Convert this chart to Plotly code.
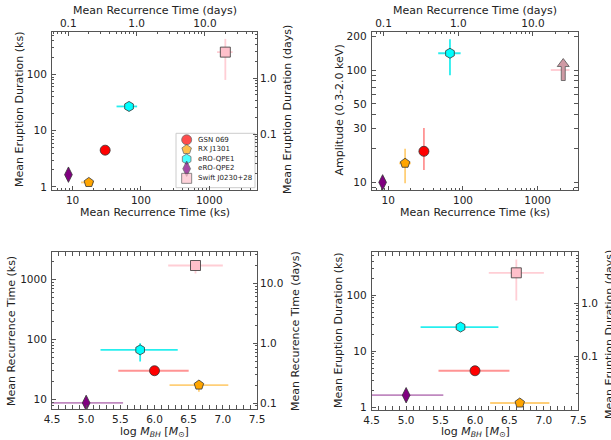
import math
import plotly.graph_objects as go

# ---------------- data ----------------
names = ["GSN 069", "RX J1301", "eRO-QPE1", "eRO-QPE2", "Swift J0230+28"]
symbols = ["circle", "pentagon", "hexagon", "diamond-tall", "square"]
colors = ["#ff0000", "#ffa500", "#00ffff", "#800080", "#ffc0cb"]
err_colors = ["rgba(255,60,60,0.55)", "rgba(255,175,30,0.6)", "rgba(0,235,235,0.85)",
              "rgba(140,40,140,0.55)", "rgba(255,185,195,0.7)"]

# mean recurrence time (ks)
rec_ks = [30.0, 17.3, 67.0, 8.7, 1720.0]
rec_lo = [28.5, 13.3, 44.0, 8.4, 1300.0]
rec_hi = [31.5, 20.5, 88.0, 9.0, 2200.0]
# mean eruption duration (ks)
dur_ks = [4.5, 1.2, 27.0, 1.65, 250.0]
dur_lo = [4.3, 1.15, 26.0, 1.6, 80.0]
dur_hi = [4.7, 1.25, 28.0, 1.7, 430.0]
# amplitude (0.3-2.0 keV); Swift J0230+28 is a lower limit
amp = [18.9, 14.8, 141.0, 10.0, 100.0]
amp_lo = [12.9, 9.8, 90.0, 10.0, 100.0]
amp_hi = [30.4, 19.9, 188.0, 10.0, 100.0]
amp_is_lower_limit = [False, False, False, False, True]
# recurrence used in the amplitude panel
amp_rec_ks = [30.0, 16.8, 67.0, 8.4, 2000.0]
amp_rec_lo = [28.5, 14.0, 46.6, 8.1, 1500.0]
amp_rec_hi = [31.5, 20.0, 93.0, 8.7, 2670.0]
amp_limit_rec_ks = 2200.0
# black hole mass
logM = [6.0, 6.65, 5.79, 5.0, 6.6]
logM_lo = [5.47, 6.22, 5.21, 4.45, 6.2]
logM_hi = [6.5, 7.08, 6.34, 5.54, 7.0]
# recurrence errors shown in mass panel
recM_lo = [29.0, 13.4, 42.7, 8.5, 1260.0]
recM_hi = [31.0, 19.6, 86.7, 9.1, 2050.0]

KS_PER_DAY = 86.4
day_ticks = [0.1, 1.0, 10.0]
day_text = ["0.1", "1.0", "10.0"]

FONT = "DejaVu Sans"
TXT = "#222222"
AXC = "#555555"

fig = go.Figure()

def errs(v, lo, hi):
    return dict(type="data", symmetric=False,
                array=[h - x for x, h in zip(v, hi)],
                arrayminus=[x - l for x, l in zip(v, lo)])

def marker(i):
    return dict(symbol=symbols[i], color=colors[i],
                size=11 if symbols[i] == "diamond-tall" else 10,
                line=dict(color="#333333", width=0.8))

def add_points(xs, ys, xlo, xhi, ylo, yhi, xa, ya):
    for i in range(len(names)):
        ex = errs([xs[i]], [xlo[i]], [xhi[i]])
        ey = errs([ys[i]], [ylo[i]], [yhi[i]])
        ex.update(color=err_colors[i], thickness=1.8, width=0)
        ey.update(color=err_colors[i], thickness=1.8, width=0)
        fig.add_trace(go.Scatter(
            x=[xs[i]], y=[ys[i]], mode="markers", xaxis=xa, yaxis=ya,
            error_x=ex, error_y=ey, showlegend=False, hoverinfo="skip",
            marker=marker(i)))

# panel 1: duration vs recurrence
add_points(rec_ks, dur_ks, rec_lo, rec_hi, dur_lo, dur_hi, "x", "y")
# panel 2: amplitude vs recurrence
for i in range(len(names)):
    ex = errs([amp_rec_ks[i]], [amp_rec_lo[i]], [amp_rec_hi[i]])
    ey = errs([amp[i]], [amp_lo[i]], [amp_hi[i]])
    ex.update(color=err_colors[i], thickness=1.8, width=0)
    ey.update(color=err_colors[i], thickness=1.8, width=0)
    if amp_is_lower_limit[i]:
        fig.add_trace(go.Scatter(x=[amp_rec_ks[i]], y=[amp[i]], mode="markers",
                                 xaxis="x2", yaxis="y2", error_x=ex,
                                 marker=dict(size=1, opacity=0),
                                 showlegend=False, hoverinfo="skip"))
        fig.add_shape(type="path", xref="x2", yref="y2",
                      xsizemode="pixel", ysizemode="pixel",
                      xanchor=amp_limit_rec_ks, yanchor=amp[i],
                      path="M -2,-10.5 L 2,-10.5 L 2,3.5 L 6,3.5 L 0,11.5 L -6,3.5 L -2,3.5 Z",
                      fillcolor="#cf9aa4", line=dict(color="#555555", width=0.8),
                      layer="above")
    else:
        fig.add_trace(go.Scatter(
            x=[amp_rec_ks[i]], y=[amp[i]], mode="markers", xaxis="x2", yaxis="y2",
            error_x=ex, error_y=ey, showlegend=False, hoverinfo="skip",
            marker=marker(i)))
# panel 3: recurrence vs mass
add_points(logM, rec_ks, logM_lo, logM_hi, recM_lo, recM_hi, "x3", "y3")
# panel 4: duration vs mass
add_points(logM, dur_ks, logM_lo, logM_hi, dur_lo, dur_hi, "x4", "y4")

# invisible traces for the secondary (days) axes
def ghost(xa, ya, xs, ys):
    fig.add_trace(go.Scatter(x=xs, y=ys, xaxis=xa, yaxis=ya, mode="markers",
                             marker=dict(opacity=0, size=1), showlegend=False,
                             hoverinfo="skip"))
ghost("x5", "y", [r / KS_PER_DAY for r in rec_ks], dur_ks)
ghost("x", "y5", rec_ks, [d / KS_PER_DAY for d in dur_ks])
ghost("x6", "y2", [r / KS_PER_DAY for r in amp_rec_ks], amp)
ghost("x3", "y6", logM, [r / KS_PER_DAY for r in rec_ks])
ghost("x4", "y7", logM, [d / KS_PER_DAY for d in dur_ks])

# manual legend (compact, inside panel 1)
n = len(names)
leg_y = [0.88 - i * 0.177 for i in range(n)]
fig.add_trace(go.Scatter(x=[0.135] * n, y=leg_y, xaxis="x7", yaxis="y8", mode="markers",
                         marker=dict(symbol=symbols, color=colors,
                                     size=[10, 10, 10, 11, 10],
                                     line=dict(color="#333333", width=0.8)),
                         showlegend=False, hoverinfo="skip"))
fig.add_trace(go.Scatter(x=[0.28] * n, y=leg_y, xaxis="x7", yaxis="y8", mode="text",
                         text=names, textposition="middle right",
                         textfont=dict(family=FONT, size=7, color=TXT),
                         showlegend=False, hoverinfo="skip"))

# ---------------- layout ----------------
L = math.log10
D = L(KS_PER_DAY)
minor_log = [k * 10 ** e for e in range(-3, 5) for k in range(2, 10)]

tickfont = dict(family=FONT, size=10.5, color=TXT)
titlefont = dict(family=FONT, size=11, color=TXT)

def logax(dom, rng, anchor=None, side=None, mirror=True, tickvals=None,
          ticktext=None, overlaying=None, showline=True, standoff=2):
    d = dict(type="log", range=rng, showgrid=False, zeroline=False, automargin=False,
             ticks="inside", ticklen=4, tickwidth=0.8, tickcolor=AXC,
             tickfont=tickfont, ticklabelstandoff=standoff,
             minor=dict(ticks="inside", ticklen=2, tickwidth=0.6, tickcolor=AXC,
                        tickmode="array", tickvals=minor_log, showgrid=False),
             showline=showline, linecolor=AXC, linewidth=1, mirror=mirror)
    if dom is not None:
        d["domain"] = dom
    if anchor:
        d["anchor"] = anchor
    if side:
        d["side"] = side
    if overlaying:
        d["overlaying"] = overlaying
    if tickvals is not None:
        d["tickmode"] = "array"
        d["tickvals"] = tickvals
        d["ticktext"] = ticktext
    return d

def linax(dom, anchor):
    return dict(domain=dom, range=[4.5, 7.5], showgrid=False, zeroline=False,
                automargin=False,
                tickmode="linear", tick0=4.5, dtick=0.5, tickformat=".1f",
                ticks="inside", ticklen=4, tickwidth=0.8, tickcolor=AXC,
                tickfont=tickfont, ticklabelstandoff=0,
                minor=dict(ticks="inside", ticklen=2, tickwidth=0.6, tickcolor=AXC,
                           dtick=0.1, showgrid=False),
                showline=True, linecolor=AXC, linewidth=1, mirror="allticks",
                anchor=anchor)

W, H = 611, 440
dx_l = [52 / W, 257 / W]
dx_r = [371.7 / W, 578.3 / W]
dy_t = [1 - 190 / H, 1 - 32 / H]
dy_b3 = [1 - 409.3 / H, 1 - 252.3 / H]
dy_b4 = [1 - 410 / H, 1 - 252.3 / H]

r1x = [L(5), L(5000)]
r1y = [L(0.88), L(570)]
r2x = [L(6), L(3500)]
r2y = [L(8.55), L(218)]
r3y = [L(6.8), L(2860)]
r4y = [L(0.9), L(580)]

ks_ticks = [1, 10, 100, 1000]
ks_text = ["1", "10", "100", "1000"]
mass_title = "log <i>M<sub>BH</sub></i> [<i>M</i><sub>⊙</sub>]"

fig.update_layout(
    template="none",
    width=W, height=H, margin=dict(l=0, r=0, t=0, b=0, autoexpand=False),
    paper_bgcolor="white", plot_bgcolor="rgba(0,0,0,0)",
    font=dict(family=FONT, color=TXT), showlegend=False,
    xaxis=logax(dx_l, r1x, anchor="y", tickvals=ks_ticks, ticktext=ks_text, standoff=0),
    yaxis=logax(dy_t, r1y, anchor="x", tickvals=ks_ticks, ticktext=ks_text),
    xaxis5=logax(None, [r1x[0] - D, r1x[1] - D], anchor="y", side="top",
                 overlaying="x", mirror=False, tickvals=day_ticks, ticktext=day_text,
                 showline=False),
    yaxis5=logax(None, [r1y[0] - D, r1y[1] - D], anchor="x", side="right",
                 overlaying="y", mirror=False, tickvals=day_ticks, ticktext=day_text,
                 showline=False),
    xaxis2=logax(dx_r, r2x, anchor="y2", tickvals=ks_ticks, ticktext=ks_text, standoff=0),
    yaxis2=logax(dy_t, r2y, anchor="x2", mirror="allticks",
                 tickvals=[10, 30, 50, 100, 200], ticktext=["10", "30", "50", "100", "200"]),
    xaxis6=logax(None, [r2x[0] - D, r2x[1] - D], anchor="y2", side="top",
                 overlaying="x2", mirror=False, tickvals=day_ticks, ticktext=day_text,
                 showline=False),
    xaxis3=linax(dx_l, "y3"),
    yaxis3=logax(dy_b3, r3y, anchor="x3", tickvals=[10, 100, 1000],
                 ticktext=["10", "100", "1000"]),
    yaxis6=logax(None, [r3y[0] - D, r3y[1] - D], anchor="x3", side="right",
                 overlaying="y3", mirror=False, tickvals=day_ticks, ticktext=day_text,
                 showline=False),
    xaxis4=linax(dx_r, "y4"),
    yaxis4=logax(dy_b4, r4y, anchor="x4", tickvals=ks_ticks, ticktext=ks_text),
    yaxis7=logax(None, [-2.0, 0.96], anchor="x4", side="right", overlaying="y4",
                 mirror=False, tickvals=day_ticks, ticktext=day_text, showline=False),
    xaxis7=dict(domain=[176 / W, 255 / W], range=[0, 1], visible=False, anchor="y8"),
    yaxis8=dict(domain=[1 - 187.7 / H, 1 - 133.3 / H], range=[0, 1], visible=False,
                anchor="x7"),
)

fig.add_shape(type="rect", xref="paper", yref="paper",
              x0=176 / W, x1=255 / W, y0=1 - 187.7 / H, y1=1 - 133.3 / H,
              fillcolor="white", line=dict(color="#cccccc", width=1), layer="below")

# axis titles placed as text at pixel positions (x, y from top-left)
titles = [
    ("Mean Recurrence Time (ks)", 154.5, 212, 0),
    ("Mean Eruption Duration (ks)", 19, 110, -90),
    ("Mean Recurrence Time (days)", 154.5, 10.8, 0),
    ("Mean Eruption Duration (days)", 287, 110, -90),
    ("Mean Recurrence Time (ks)", 475, 212, 0),
    ("Amplitude (0.3-2.0 keV)", 338.5, 110, -90),
    ("Mean Recurrence Time (days)", 475, 10.8, 0),
    (mass_title, 154.5, 432, 0),
    ("Mean Recurrence Time (ks)", 11, 331, -90),
    ("Mean Recurence Time (days)", 295, 331, -90),
    (mass_title, 475, 432, 0),
    ("Mean Eruption Duration (ks)", 338, 331, -90),
    ("Mean Eruption Duration (days)", 609, 335, -90),
]
for text, px, py, ang in titles:
    fig.add_annotation(text=text, x=px / W, y=1 - py / H, xref="paper", yref="paper",
                       showarrow=False, textangle=ang, xanchor="center", yanchor="middle",
                       font=titlefont)

fig.write_html("out.html", config={"displayModeBar": False},
               post_script="document.body.style.margin='0';")
